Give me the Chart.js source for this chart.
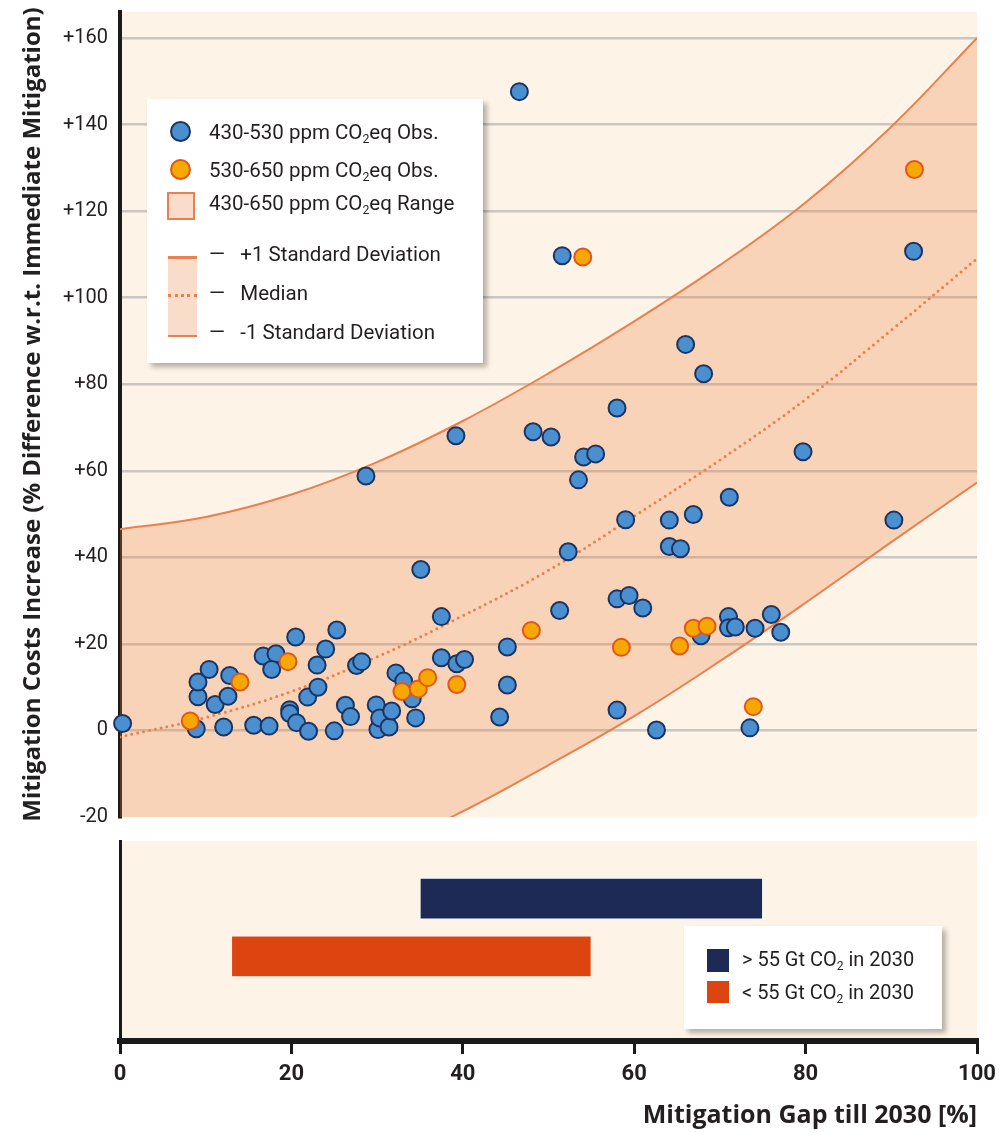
<!DOCTYPE html>
<html>
<head>
<meta charset="utf-8">
<script src="https://cdn.jsdelivr.net/npm/chart.js@4.4.1/dist/chart.umd.min.js"></script>
<style>
  body { margin: 0; background: #fff; font-family: Roboto, sans-serif; color: #231f20; }
  #wrap { position: relative; width: 999px; height: 1133px; }
  canvas { position: absolute; left: 0; }
  .box { position: absolute; background: #fff; box-shadow: 4px 4px 5px rgba(0,0,0,0.28); }
  .row { position: absolute; font-size: 20.5px; line-height: 24px; white-space: nowrap; }
  .row sub { font-size: 0.6em; vertical-align: -0.35em; line-height: 0; }
  .dot { position: absolute; width: 17px; height: 17px; border-radius: 50%; border: 2px solid; }
</style>
</head>
<body>
<div id="wrap">
  <canvas id="top-chart" width="999" height="830" style="top:0"></canvas>
  <canvas id="gap-chart" width="999" height="303" style="top:830px"></canvas>

  <div class="box" style="left:147px;top:99px;width:336px;height:264px">
    <div class="dot" style="left:23px;top:22px;background:#4a8fd0;border-color:#1c3461"></div>
    <div class="row" style="left:62px;top:21px">430-530 ppm CO<sub>2</sub>eq Obs.</div>
    <div class="dot" style="left:23px;top:60px;background:#f6a800;border-color:#e0561a"></div>
    <div class="row" style="left:62px;top:59px">530-650 ppm CO<sub>2</sub>eq Obs.</div>
    <div style="position:absolute;left:20px;top:93px;width:24px;height:24px;background:#fadccb;border:2px solid #e8804f"></div>
    <div class="row" style="left:62px;top:92px">430-650 ppm CO<sub>2</sub>eq Range</div>
    <div style="position:absolute;left:21px;top:157px;width:29px;height:76px;background:#fadccb;border-top:3px solid #e8804f;border-bottom:2px solid #e8804f"></div>
    <div style="position:absolute;left:21px;top:195px;width:29px;border-top:3px dotted #e8804f"></div>
    <div class="row" style="left:62px;top:143px">—&nbsp;&nbsp; +1 Standard Deviation</div>
    <div class="row" style="left:62px;top:182px">—&nbsp;&nbsp; Median</div>
    <div class="row" style="left:62px;top:221px">—&nbsp;&nbsp; -1 Standard Deviation</div>
  </div>

  <div class="box" style="left:684px;top:926px;width:258px;height:103px">
    <div style="position:absolute;left:23px;top:23px;width:22px;height:23px;background:#1c2a55"></div>
    <div class="row" style="left:58px;top:21px;font-size:20px">&gt; 55 Gt CO<sub>2</sub> in 2030</div>
    <div style="position:absolute;left:23px;top:55px;width:22px;height:22px;background:#dc4410"></div>
    <div class="row" style="left:58px;top:54px;font-size:20px">&lt; 55 Gt CO<sub>2</sub> in 2030</div>
  </div>
</div>

<script>
// 430-530 ppm observations
const blueX = [0.3, 8.9, 9.1, 9.1, 10.4, 11.1, 12.6, 12.8, 12.1, 15.6, 17.4, 16.7, 18.2, 17.7,
  20.5, 19.8, 19.8, 20.6, 22.0, 21.9, 23.1, 23.0, 24.0, 25.3, 25.0, 26.3, 26.9, 27.6, 28.2,
  28.7, 29.9, 30.1, 30.3, 31.4, 31.7, 32.2, 33.1, 34.1, 34.5, 35.1, 37.5, 37.5, 39.2, 39.3,
  40.2, 44.3, 45.2, 45.2, 46.6, 48.2, 50.3, 51.3, 51.6, 52.3, 53.5, 54.1, 55.5, 58.0, 58.0,
  59.4, 58.0, 59.0, 61.0, 62.6, 64.1, 64.1, 65.4, 66.0, 66.9, 67.8, 68.1, 71.0, 71.0, 71.8,
  71.1, 73.5, 74.1, 76.0, 77.1, 79.7, 90.3, 92.6];
const blueY = [1.6, 0.4, 7.8, 11.2, 14.1, 6.0, 7.9, 12.7, 0.8, 1.2, 1.0, 17.2, 17.7, 14.1,
  21.6, 4.8, 3.9, 1.8, -0.2, 7.7, 10.0, 15.1, 18.8, 23.2, -0.1, 5.8, 3.2, 15.0, 15.9,
  58.8, 5.9, 0.2, 2.9, 0.8, 4.5, 13.3, 11.4, 7.3, 2.9, 37.2, 26.3, 16.8, 68.1, 15.4,
  16.4, 3.1, 10.5, 19.3, 147.6, 69.0, 67.8, 27.7, 109.7, 41.3, 57.9, 63.2, 63.9, 74.5, 30.4,
  31.2, 4.7, 48.7, 28.3, 0.1, 48.6, 42.5, 42.0, 89.2, 49.9, 21.9, 82.4, 26.3, 23.7, 23.9,
  53.9, 0.6, 23.6, 26.8, 22.7, 64.4, 48.6, 110.7];

// 530-650 ppm observations
const orangeX = [8.2, 14.0, 19.6, 32.9, 34.8, 35.9, 39.3, 48.0, 54.0, 58.5, 65.3, 66.9, 68.5, 73.9, 92.7];
const orangeY = [2.2, 11.2, 15.9, 9.0, 9.6, 12.2, 10.6, 23.1, 109.4, 19.2, 19.5, 23.6, 24.1, 5.5, 129.6];

// range curves read at these gap values
const curveX = [0, 10, 20, 30, 40, 50, 60, 70, 80, 90, 100];
const upperSD = [46.5, 49.3, 54.5, 62, 71.5, 82.5, 94.5, 107.5, 122, 139.5, 160];
const medianY = [-1.5, 3, 9, 17, 26.5, 37, 49.5, 62.5, 76.5, 92.5, 109];
const lowerSD = [-46, -41, -35, -28, -18.7, -8, 3.3, 16, 29.5, 43.5, 57.3];

const yTicks = [-20, 0, 20, 40, 60, 80, 100, 120, 140, 160];
const xTicks = [0, 20, 40, 60, 80, 100];

// bottom panel: mitigation gap ranges
const gapGroups = ["> 55 Gt CO2 in 2030", "< 55 Gt CO2 in 2030"];
const gapStart = [35, 13];
const gapEnd = [75, 55];
const gapRow = [1, 2];

const pts = (xs, ys) => xs.map((x, i) => ({ x: x, y: ys[i] }));

const plotBg = {
  id: "plotBg",
  beforeDraw(chart) {
    const a = chart.chartArea;
    const ctx = chart.ctx;
    ctx.save();
    ctx.fillStyle = "#fdf3e6";
    ctx.fillRect(a.left, a.top, a.right - a.left, a.bottom - a.top);
    ctx.restore();
  }
};

function makeCharts() {
  const curveStyle = {
    type: "line",
    pointRadius: 0,
    borderColor: "#e8804f",
    borderWidth: 2,
    tension: 0.4
  };

  new Chart(document.getElementById("top-chart"), {
    type: "scatter",
    data: {
      datasets: [
        {
          label: "530-650 ppm CO2eq Obs.",
          data: pts(orangeX, orangeY),
          backgroundColor: "#f6a800",
          borderColor: "#e0561a",
          borderWidth: 2,
          pointRadius: 8.5,
          pointHoverRadius: 8.5,
          clip: false
        },
        {
          label: "430-530 ppm CO2eq Obs.",
          data: pts(blueX, blueY),
          backgroundColor: "#4a8fd0",
          borderColor: "#1c3461",
          borderWidth: 2,
          pointRadius: 8.5,
          pointHoverRadius: 8.5,
          clip: false
        },
        Object.assign({}, curveStyle, { label: "+1 Standard Deviation", data: pts(curveX, upperSD) }),
        Object.assign({}, curveStyle, {
          label: "Median",
          data: pts(curveX, medianY),
          borderWidth: 3,
          borderDash: [0, 6],
          borderCapStyle: "round"
        }),
        Object.assign({}, curveStyle, {
          label: "-1 Standard Deviation",
          data: pts(curveX, lowerSD),
          fill: 2,
          backgroundColor: "rgba(238,130,60,0.28)"
        })
      ]
    },
    options: {
      responsive: false,
      animation: false,
      layout: { padding: { top: 12, right: 22, bottom: 13, left: 0 } },
      plugins: { legend: { display: false }, tooltip: { enabled: false } },
      scales: {
        x: { type: "linear", min: 0, max: 100, display: false },
        y: {
          min: -20,
          max: 166,
          afterFit: s => { s.width = 120; },
          afterBuildTicks: s => { s.ticks = yTicks.map(v => ({ value: v })); },
          border: { color: "#1a1a1a", width: 4 },
          grid: {
            drawTicks: true,
            tickLength: 12,
            tickColor: "rgba(0,0,0,0)",
            lineWidth: 2.5,
            color: c => (c.tick && c.tick.value === -20 ? "rgba(0,0,0,0)" : "#cac6c1")
          },
          ticks: {
            padding: 0,
            color: "#231f20",
            font: { family: "Roboto", size: 20 },
            callback: v => (v > 0 ? "+" + v : String(v))
          },
          title: {
            display: true,
            text: "Mitigation Costs Increase (% Difference w.r.t. Immediate Mitigation)",
            color: "#231f20",
            font: { family: "'Open Sans'", size: 24, weight: "bold" },
            padding: { top: 19, bottom: 0 }
          }
        }
      }
    },
    plugins: [plotBg]
  });

  new Chart(document.getElementById("gap-chart"), {
    type: "bar",
    data: {
      datasets: [{
        label: "Mitigation Gap",
        data: gapRow.map((r, i) => ({ x: [gapStart[i], gapEnd[i]], y: r })),
        backgroundColor: ["#1c2a55", "#dc4410"],
        borderColor: "rgba(255,255,255,0.85)",
        borderWidth: 1,
        borderSkipped: false,
        barThickness: 41
      }]
    },
    options: {
      indexAxis: "y",
      responsive: false,
      animation: false,
      layout: { padding: { top: 11, right: 22, bottom: 0, left: 0 } },
      plugins: { legend: { display: false }, tooltip: { enabled: false } },
      scales: {
        y: {
          type: "linear",
          reverse: true,
          min: 0.22,
          max: 3.25,
          afterFit: s => { s.width = 120; },
          ticks: { display: false },
          grid: { display: false },
          border: { color: "#1a1a1a", width: 3 }
        },
        x: {
          type: "linear",
          min: 0,
          max: 100,
          afterFit: s => { s.height = 92; },
          afterBuildTicks: s => { s.ticks = xTicks.map(v => ({ value: v })); },
          border: { color: "#1a1a1a", width: 6 },
          grid: {
            drawOnChartArea: false,
            color: "#1a1a1a",
            lineWidth: 3,
            tickLength: 20,
            tickBorderDash: [10, 40]
          },
          ticks: {
            padding: 0,
            maxRotation: 0,
            color: "#231f20",
            font: { family: "Roboto", size: 22, weight: "bold" }
          },
          title: {
            display: true,
            align: "end",
            text: "Mitigation Gap till 2030 [%]",
            color: "#231f20",
            font: { family: "'Open Sans'", size: 25, weight: "bold" },
            padding: { top: 0, bottom: 2 }
          }
        }
      }
    },
    plugins: [plotBg]
  });
}

Promise.all([
  document.fonts.load("20px Roboto"),
  document.fonts.load("bold 22px Roboto"),
  document.fonts.load("bold 25px 'Open Sans'")
]).then(makeCharts, makeCharts);
</script>
</body>
</html>
